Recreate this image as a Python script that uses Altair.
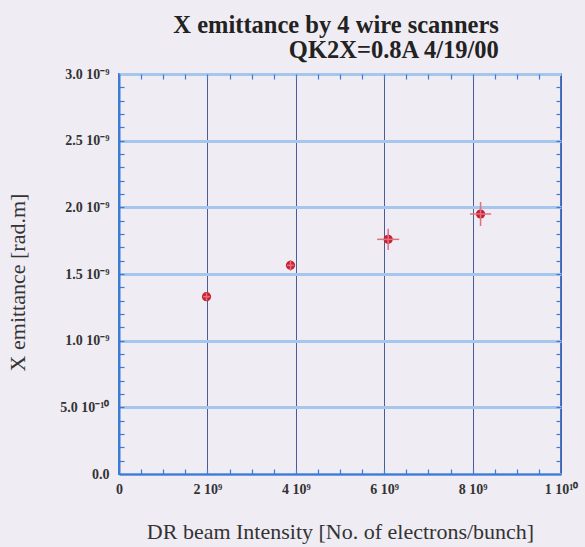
import altair as alt
import pandas as pd

# ---- data ----
intensity = [1.98e9, 3.88e9, 6.09e9, 8.18e9]
emittance = [1.33e-9, 1.565e-9, 1.76e-9, 1.95e-9]
intensity_err = [0.08e9, 0.08e9, 0.25e9, 0.24e9]
emittance_err = [0.03e-9, 0.04e-9, 0.08e-9, 0.09e-9]

x_ticks = [0, 2e9, 4e9, 6e9, 8e9, 1e10]
x_labels = ["0", "2 10⁹", "4 10⁹", "6 10⁹", "8 10⁹", "1 10¹⁰"]
y_ticks = [0, 5e-10, 1e-9, 1.5e-9, 2e-9, 2.5e-9, 3e-9]
y_labels = ["0.0", "5.0 10⁻¹⁰", "1.0 10⁻⁹", "1.5 10⁻⁹", "2.0 10⁻⁹", "2.5 10⁻⁹", "3.0 10⁻⁹"]
x_minor = [i * 0.5e9 for i in range(1, 20)]
y_minor = [i * 1e-10 for i in range(1, 30)]

title_lines = ["X emittance by 4 wire scanners", "QK2X=0.8A 4/19/00"]
x_title = "DR beam Intensity [No. of electrons/bunch]"
y_title = "X emittance [rad.m]"

df = pd.DataFrame({"x": intensity, "y": emittance, "xe": intensity_err, "ye": emittance_err})
df["x_lo"] = df["x"] - df["xe"]
df["x_hi"] = df["x"] + df["xe"]
df["y_lo"] = df["y"] - df["ye"]
df["y_hi"] = df["y"] + df["ye"]


def label_expr(vals, labels, tol):
    expr = "''"
    for v, l in reversed(list(zip(vals, labels))):
        expr = f"abs(datum.value - ({v!r})) < {tol} ? '{l}' : {expr}"
    return expr


BG = "#efecf3"
BLUE = "#3c7ad6"
RED = "#c8202f"
FONT = "Liberation Serif"

xscale = alt.Scale(domain=[0, 1e10], nice=False, zero=False)
yscale = alt.Scale(domain=[0, 3e-9], nice=False, zero=False)

xaxis = alt.Axis(
    values=x_ticks, labelExpr=label_expr(x_ticks, x_labels, 1e6),
    title=x_title, titleX=221, titleY=57, titleFont=FONT, titleFontSize=22,
    titleFontWeight="normal", titleColor="#333333", titleBaseline="middle",
    labelFont=FONT, labelFontSize=14, labelFontWeight="bold", labelColor="#333333",
    labelPadding=8, ticks=False, domainColor=BLUE, domainWidth=2,
    grid=True, gridColor="#4a5c98", gridWidth=1, labelFlush=False,
)
yaxis = alt.Axis(
    values=y_ticks, labelExpr=label_expr(y_ticks, y_labels, 1e-13),
    title=y_title, titleX=-102, titleY=208, titleAngle=-90, titleFont=FONT, titleFontSize=22,
    titleFontWeight="normal", titleColor="#333333", titleBaseline="middle",
    labelFont=FONT, labelFontSize=14, labelFontWeight="bold", labelColor="#333333",
    labelPadding=10, ticks=False, domainColor=BLUE, domainWidth=2,
    grid=True, gridColor="#a6c6ee", gridWidth=3, labelFlush=False,
)


def minor_axis(orient, values):
    return alt.Axis(
        orient=orient, values=values, offset=-5, tickSize=5, tickColor=BLUE, tickWidth=1.2,
        labels=False, domain=False, grid=False, title=None,
    )


points = alt.Chart(df).mark_point(filled=True, size=85, color=RED, opacity=1).encode(
    x=alt.X("x:Q", scale=xscale, axis=xaxis),
    y=alt.Y("y:Q", scale=yscale, axis=yaxis),
)
xerr = alt.Chart(df).mark_rule(color="#e07080", strokeWidth=1.5).encode(
    x=alt.X("x_lo:Q", axis=None), x2="x_hi:Q", y=alt.Y("y:Q", axis=None)
)
yerr = alt.Chart(df).mark_rule(color="#e07080", strokeWidth=1.5).encode(
    x=alt.X("x:Q", axis=None), y=alt.Y("y_lo:Q", axis=None), y2="y_hi:Q"
)
minor_a = alt.Chart(df).mark_point(opacity=0).encode(
    x=alt.X("x:Q", axis=minor_axis("top", x_minor)),
    y=alt.Y("y:Q", axis=minor_axis("left", y_minor)),
)
minor_b = alt.Chart(df).mark_point(opacity=0).encode(
    x=alt.X("x:Q", axis=minor_axis("bottom", x_minor)),
    y=alt.Y("y:Q", axis=minor_axis("right", y_minor)),
)

chart = alt.layer(minor_a, minor_b, points, xerr, yerr).resolve_axis(
    x="independent", y="independent"
).properties(
    width=442, height=400,
    background=BG,
    autosize=alt.AutoSizeParams(type="none"),
    padding={"left": 119, "top": 74, "right": 24, "bottom": 73},
    title=alt.Title(
        title_lines, anchor="end", dx=-79, offset=4, font=FONT, fontSize=24.5,
        fontWeight="bold", color="#222222", lineHeight=25,
    ),
).configure_view(stroke=BLUE, strokeWidth=2, fill=BG)

chart.save("out.html", embed_options={"renderer": "svg", "actions": False})
